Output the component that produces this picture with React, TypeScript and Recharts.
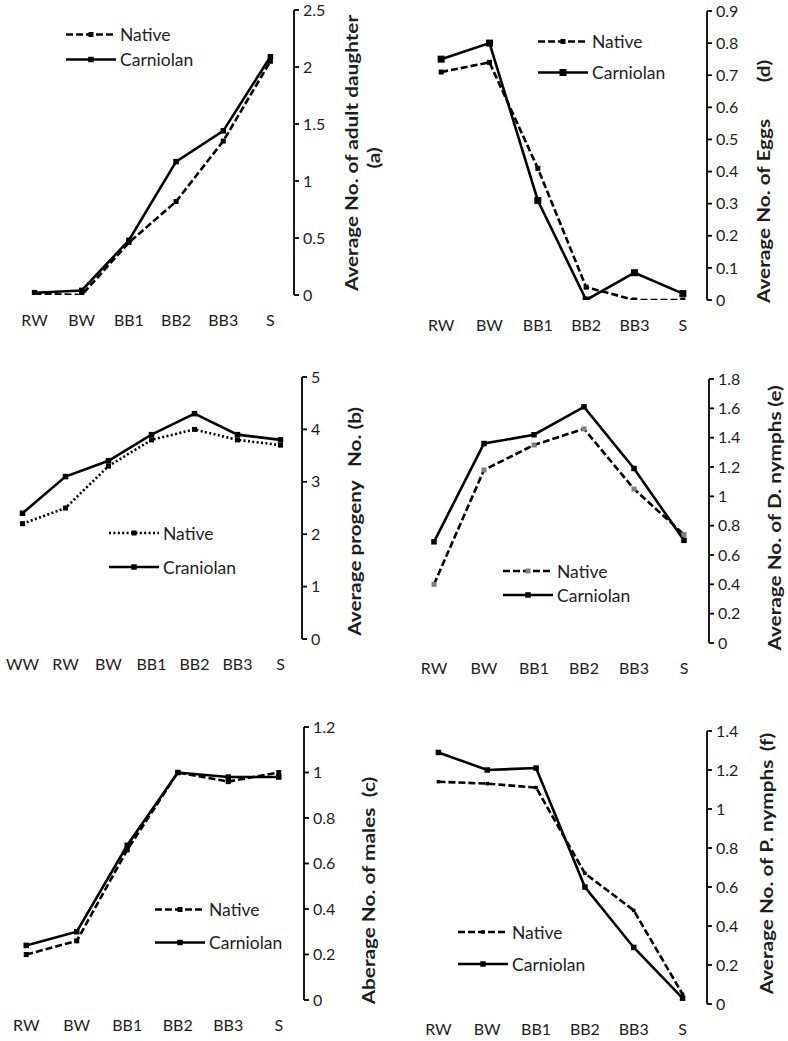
import { LineChart, Line, XAxis, YAxis, Legend } from 'recharts';

// stages on the x axis
const STAGES = ['RW', 'BW', 'BB1', 'BB2', 'BB3', 'S'];
const STAGES_B = ['WW', 'RW', 'BW', 'BB1', 'BB2', 'BB3', 'S'];

// (a) adult daughters
const daughtersNative = [0.01, 0.0, 0.46, 0.82, 1.35, 2.05];
const daughtersCarniolan = [0.02, 0.04, 0.48, 1.17, 1.44, 2.09];
const daughtersTicks = [0, 0.5, 1, 1.5, 2, 2.5];

// (d) eggs
const eggsNative = [0.71, 0.74, 0.41, 0.04, 0, 0];
const eggsCarniolan = [0.75, 0.8, 0.31, 0, 0.085, 0.02];
const eggsTicks = [0, 0.1, 0.2, 0.3, 0.4, 0.5, 0.6, 0.7, 0.8, 0.9];

// (b) progeny
const progenyNative = [2.2, 2.5, 3.3, 3.8, 4.0, 3.8, 3.7];
const progenyCraniolan = [2.4, 3.1, 3.4, 3.9, 4.3, 3.9, 3.8];
const progenyTicks = [0, 1, 2, 3, 4, 5];

// (e) deutonymphs
const dNymphNative = [0.4, 1.18, 1.35, 1.46, 1.05, 0.74];
const dNymphCarniolan = [0.69, 1.36, 1.42, 1.61, 1.19, 0.7];
const dNymphTicks = [0, 0.2, 0.4, 0.6, 0.8, 1, 1.2, 1.4, 1.6, 1.8];

// (c) males
const malesNative = [0.2, 0.26, 0.66, 1.0, 0.96, 1.0];
const malesCarniolan = [0.24, 0.3, 0.68, 1.0, 0.98, 0.98];
const malesTicks = [0, 0.2, 0.4, 0.6, 0.8, 1, 1.2];

// (f) protonymphs
const pNymphNative = [1.14, 1.13, 1.11, 0.67, 0.48, 0.05];
const pNymphCarniolan = [1.29, 1.2, 1.21, 0.6, 0.29, 0.03];
const pNymphTicks = [0, 0.2, 0.4, 0.6, 0.8, 1, 1.2, 1.4];

const FONT = 'Lato, "Open Sans", sans-serif';
const INK = '#1e1e1e';
const AX = { stroke: '#000', strokeWidth: 1.8 };
const PAD_X = 6;
const PAD_Y = 14;
const YW = 100;
const XH = 45;
// the axis titles in the source are drawn stretched along their length
const TITLE_STRETCH = 1.22;

const DASHED = '7 3';
const DOTTED = '2 2.4';

type Panel = {
  cats: string[];
  native: number[];
  bred: number[];
  bredName: string;
  nativeDash: string;
  nativeDot: string;
  nativeDotSize: number;
  bredDotSize: number;
  ticks: number[];
  box: [number, number, number, number];
  legend: [number, number, number];
};

const PANELS: Panel[] = [
  { cats: STAGES, native: daughtersNative, bred: daughtersCarniolan, bredName: 'Carniolan', nativeDash: DASHED, nativeDot: '#000', nativeDotSize: 5, bredDotSize: 5.5, ticks: daughtersTicks, box: [11, 10, 294, 295], legend: [65, 34, 59] },
  { cats: STAGES, native: eggsNative, bred: eggsCarniolan, bredName: 'Carniolan', nativeDash: DASHED, nativeDot: '#000', nativeDotSize: 5, bredDotSize: 7, ticks: eggsTicks, box: [417, 11, 707, 300], legend: [537, 41, 72] },
  { cats: STAGES_B, native: progenyNative, bred: progenyCraniolan, bredName: 'Craniolan', nativeDash: DOTTED, nativeDot: '#000', nativeDotSize: 5, bredDotSize: 5.5, ticks: progenyTicks, box: [1, 377, 302, 639], legend: [108, 533, 567] },
  { cats: STAGES, native: dNymphNative, bred: dNymphCarniolan, bredName: 'Carniolan', nativeDash: DASHED, nativeDot: '#808080', nativeDotSize: 5, bredDotSize: 5.5, ticks: dNymphTicks, box: [409, 379, 709, 643], legend: [502, 571, 595] },
  { cats: STAGES, native: malesNative, bred: malesCarniolan, bredName: 'Carniolan', nativeDash: DASHED, nativeDot: '#000', nativeDotSize: 5, bredDotSize: 5.5, ticks: malesTicks, box: [1, 727, 304, 1000], legend: [154, 909, 942] },
  { cats: STAGES, native: pNymphNative, bred: pNymphCarniolan, bredName: 'Carniolan', nativeDash: DASHED, nativeDot: '#000', nativeDotSize: 3.5, bredDotSize: 5.5, ticks: pNymphTicks, box: [414, 731, 707, 1004], legend: [457, 932, 964] },
];

const TITLES = [
  { text: 'Average No. of adult daughter', x: 358, y: 153 },
  { text: '(a)', x: 380, y: 158 },
  { text: 'Average No. of Eggs', x: 770, y: 211 },
  { text: '(d)', x: 770, y: 71 },
  { text: 'Average progeny', x: 361, y: 558 },
  { text: 'No. (b)', x: 361, y: 437 },
  { text: 'Average No. of D. nymphs', x: 781, y: 531 },
  { text: '(e)', x: 781, y: 396 },
  { text: 'Aberage No. of males', x: 375, y: 906 },
  { text: '(c)', x: 375, y: 787 },
  { text: 'Average No. of P. nymphs', x: 773, y: 877 },
  { text: '(f)', x: 773, y: 742 },
];

function squareDot(color: string, size: number) {
  return (props: any) => {
    const { cx, cy, index } = props;
    if (cx == null || cy == null) return <g key={index} />;
    return <rect key={index} x={cx - size / 2} y={cy - size / 2} width={size} height={size} fill={color} />;
  };
}

function LegendBox({ rows, gap }: { rows: { name: string; dash?: string; dot: string; size: number }[]; gap: number }) {
  return (
    <div style={{ fontFamily: FONT, fontSize: 17.5, color: INK }}>
      {rows.map(r => (
        <div key={r.name} style={{ display: 'flex', alignItems: 'center', height: gap }}>
          <svg width={52} height={gap} style={{ display: 'block' }}>
            <line x1={1} x2={51} y1={gap / 2} y2={gap / 2} stroke="#000" strokeWidth={2.6} strokeDasharray={r.dash} />
            <rect x={26 - r.size / 2} y={gap / 2 - r.size / 2} width={r.size} height={r.size} fill={r.dot} />
          </svg>
          <span style={{ marginLeft: 3, whiteSpace: 'nowrap' }}>{r.name}</span>
        </div>
      ))}
    </div>
  );
}

function PanelChart({ p }: { p: Panel }) {
  const [L, T, R, B] = p.box;
  const n = p.cats.length;
  const yMax = p.ticks[p.ticks.length - 1];
  const data = p.cats.map((c, i) => ({ cat: c, pos: i + 0.5, native: p.native[i], bred: p.bred[i] }));
  const bounds = p.cats.map((_, i) => i).concat([n]);
  const gap = p.legend[2] - p.legend[1];
  const left = L - PAD_X;
  const top = T - PAD_Y;
  const tickStyle = { fontFamily: FONT, fontSize: 16, fill: INK };

  return (
    <div style={{ position: 'absolute', left, top }}>
      <LineChart width={R - L + PAD_X + YW} height={B - T + PAD_Y + XH} data={data} margin={{ top: PAD_Y, left: PAD_X, right: 0, bottom: 0 }}>
        <XAxis xAxisId="num" type="number" dataKey="pos" domain={[0, n]} allowDataOverflow ticks={bounds} tick={false} tickSize={5} height={0} axisLine={AX} tickLine={AX} />
        <XAxis xAxisId="cat" type="category" scale="band" dataKey="cat" interval={0} tickSize={0} tickMargin={20} height={XH} axisLine={false} tickLine={false} tick={tickStyle} />
        <XAxis xAxisId="top" orientation="top" type="number" dataKey="pos" domain={[0, n]} allowDataOverflow height={0} tick={false} tickLine={false} axisLine={AX} />
        <YAxis yAxisId="l" orientation="left" type="number" dataKey="bred" domain={[0, yMax]} allowDataOverflow width={0} tick={false} tickLine={false} axisLine={AX} />
        <YAxis yAxisId="r" orientation="right" type="number" domain={[0, yMax]} allowDataOverflow ticks={p.ticks} interval={0} width={YW} tickSize={5} tickMargin={4} axisLine={AX} tickLine={AX} tick={tickStyle} />
        <Legend
          layout="vertical"
          align="center"
          verticalAlign="middle"
          wrapperStyle={{ left: p.legend[0] - left, top: p.legend[1] - gap / 2 - top, width: 200 }}
          content={() => (
            <LegendBox
              gap={gap}
              rows={[
                { name: 'Native', dash: p.nativeDash, dot: p.nativeDot, size: p.nativeDotSize },
                { name: p.bredName, dot: '#000', size: p.bredDotSize },
              ]}
            />
          )}
        />
        <Line xAxisId="num" yAxisId="r" type="linear" dataKey="native" name="Native" stroke="#000" strokeWidth={2.6} strokeDasharray={p.nativeDash} dot={squareDot(p.nativeDot, p.nativeDotSize)} activeDot={false} isAnimationActive={false} />
        <Line xAxisId="num" yAxisId="r" type="linear" dataKey="bred" name={p.bredName} stroke="#000" strokeWidth={2.6} dot={squareDot('#000', p.bredDotSize)} activeDot={false} isAnimationActive={false} />
      </LineChart>
    </div>
  );
}

export default function App() {
  return (
    <div style={{ position: 'absolute', left: 0, top: 0, width: 788, height: 1041, background: '#fff', overflow: 'hidden' }}>
      {PANELS.map((p, i) => (
        <PanelChart key={i} p={p} />
      ))}
      <svg width={788} height={1041} style={{ position: 'absolute', left: 0, top: 0, pointerEvents: 'none' }}>
        {TITLES.map(t => (
          <text
            key={t.text}
            x={0}
            y={0}
            transform={`translate(${t.x} ${t.y}) rotate(-90) scale(${TITLE_STRETCH} 1)`}
            textAnchor="middle"
            fontFamily={FONT}
            fontWeight="bold"
            fontSize={17}
            fill={INK}
          >
            {t.text}
          </text>
        ))}
      </svg>
    </div>
  );
}
